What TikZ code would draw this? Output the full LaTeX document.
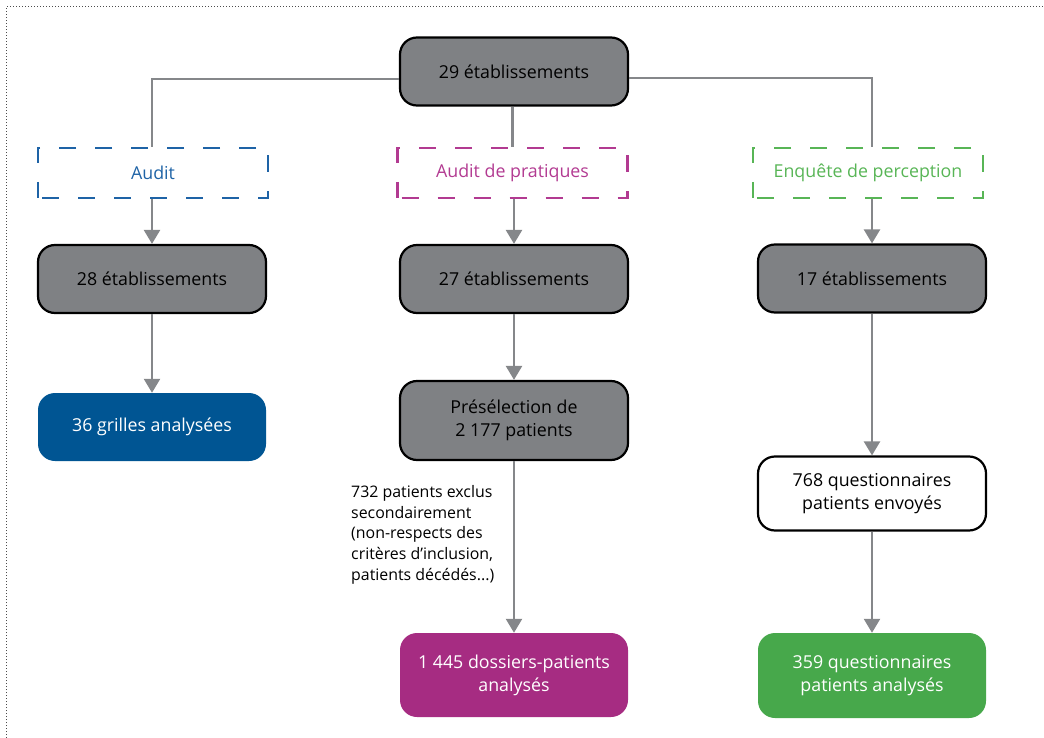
\documentclass[tikz,border=0pt]{standalone}
\usepackage{fontspec}
\setmainfont{Open Sans}
\usetikzlibrary{arrows.meta}
\definecolor{boxgray}{HTML}{7F8184}
\definecolor{linegray}{HTML}{85878A}
\definecolor{cblue}{HTML}{005593}
\definecolor{tblue}{HTML}{1E63A6}
\definecolor{cmag}{HTML}{A62C82}
\definecolor{tmag}{HTML}{B23A91}
\definecolor{cgreen}{HTML}{47A84B}
\definecolor{tgreen}{HTML}{58B556}
\begin{document}
\begin{tikzpicture}[x=1pt,y=-1pt,
  mainfont/.style={font=\fontsize{17.8}{23}\selectfont},
  graybox/.style={mainfont,draw=black,line width=2.2pt,rounded corners=17pt,fill=boxgray,text=black,
    minimum width=228pt,minimum height=68pt,align=center,inner sep=0pt},
  colbox/.style={mainfont,draw=none,rounded corners=17pt,text=white,
    minimum width=228pt,minimum height=68pt,align=center,inner sep=0pt},
  dashbox/.style={mainfont,draw=#1,text=#1,line width=2.2pt,dash pattern=on 17pt off 19pt,dash phase=-4pt,
    minimum width=230pt,minimum height=50pt,align=center,inner sep=0pt},
  conn/.style={draw=linegray,line width=2.4pt},
  arr/.style={conn,-{Triangle[width=16pt,length=14pt]}}
]
\useasboundingbox (0,0) rectangle (1044,738);
\draw[black!70,line width=1pt,dotted] (6,738) -- (6,7) -- (1044,7);

\node[graybox] (top) at (514,71.5) {29 établissements};

\node[dashbox=tblue] (audit) at (153,173) {Audit};
\node[dashbox=tmag] (prat) at (512.5,173) {Audit de pratiques};
\node[dashbox=tgreen] (enq) at (868,173) {Enquête de perception};

\node[graybox] (e28) at (152,279) {28 établissements};
\node[graybox] (e27) at (514,279) {27 établissements};
\node[graybox] (e17) at (872,278.5) {17 établissements};

\node[colbox,fill=cblue] (grilles) at (152,427) {36 grilles analysées};
\node[graybox,minimum height=79pt] (presel) at (514,420.5) {Présélection de\\2~177 patients};
\node[graybox,fill=white,minimum height=74pt] (q768) at (872,493.5) {768 questionnaires\\patients envoyés};

\node[colbox,fill=cmag,minimum height=84pt] (dossiers) at (514,675) {1~445 dossiers-patients\\analysés};
\node[colbox,fill=cgreen,minimum height=85pt] (q359) at (872,675.5) {359 questionnaires\\patients analysés};

\node[anchor=north west,align=left,inner sep=0pt,text=black,font=\fontsize{15.9}{20.8}\selectfont] (excl) at (351,485)
  {732 patients exclus\\secondairement\\(non-respects des\\critères d’inclusion,\\patients décédés...)};

\draw[conn] (top.west |- 0,79) -| (audit.north -| 152,0);
\draw[conn] (top.east |- 0,78) -| (enq.north -| 872,0);
\draw[conn] (top.south -| prat.north) -- (prat.north);

\draw[arr] (audit.south -| e28.north) -- (e28.north);
\draw[arr] (prat.south -| e27.north) -- (e27.north);
\draw[arr] (enq.south -| e17.north) -- (e17.north);

\draw[arr] (e28.south) -- (grilles.north);
\draw[arr] (e27.south) -- (presel.north);
\draw[arr] (e17.south) -- (q768.north);
\draw[arr] (presel.south) -- (dossiers.north);
\draw[arr] (q768.south) -- (q359.north);
\end{tikzpicture}
\end{document}
